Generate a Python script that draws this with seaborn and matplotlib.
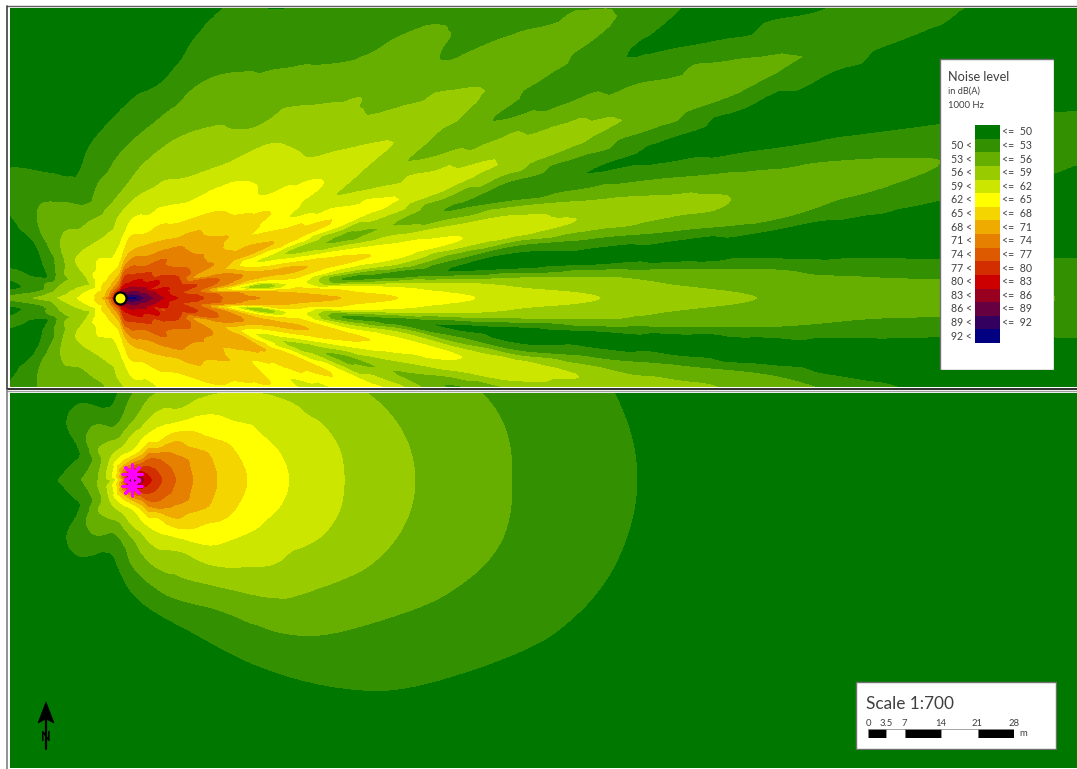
from __future__ import annotations

import matplotlib

matplotlib.use("Agg", force=True)

import matplotlib.pyplot as plt
import matplotlib.tri as mtri
import numpy as np
import seaborn as sns
from matplotlib.colors import ListedColormap
from matplotlib.patches import Polygon, Rectangle

WIDTH, HEIGHT = 1077, 769

# noise classes, dB(A)
class_limits = [50, 53, 56, 59, 62, 65, 68, 71, 74, 77, 80, 83, 86, 89, 92]
class_colors = [
    "#007800", "#339000", "#66AF00", "#99CC00", "#CCE600", "#FFFF00", "#F5D500", "#F0AB00",
    "#E68000", "#DE5A00", "#D32E00", "#CC0000", "#990020", "#660040", "#330060", "#000080",
]

# upper map: readings along rays from the source, mirrored about the axis
top_source = (120, 298)
top_radii = [0, 12, 25, 40, 60, 80, 110, 140, 180, 230, 280, 340, 400, 480, 560, 650, 750, 850, 1000]
top_angles = [0, 1.3, 2.5, 4.7, 7, 9.5, 12, 15, 19.5, 25.4, 29.6, 36.3, 40, 46, 52, 60, 70, 80, 90,
              100, 110, 120, 130, 140, 150, 156, 160, 164, 168, 174, 180]
top_db = [
    [90, 93, 88, 84, 79.5, 77.5, 73, 71, 70, 67.5, 64.9, 62.5, 60.7, 59, 57.4, 55.8, 54.6, 53.6, 52.6],
    [90, 92.5, 88, 83.5, 79, 77, 72.5, 69.8, 68.3, 65.5, 63.2, 61, 59.2, 57.6, 55.9, 54.4, 53.4, 52.8, 51.8],
    [90, 92, 87.5, 83, 78.5, 76.5, 72, 68.5, 66.5, 63.5, 61, 59, 57.3, 56, 54.2, 53, 51.3, 50.2, 49.5],
    [90, 91, 87, 82.5, 77.5, 74, 64, 56, 63, 52, 51, 49.5, 48.5, 48, 47.5, 47, 46.5, 46, 45.5],
    [90, 91, 87, 82, 78, 75.5, 70, 65, 65.5, 60, 59, 54, 51, 52.5, 53.2, 53.5, 51.5, 50, 48.5],
    [90, 90, 86, 81.5, 78.5, 76.8, 72.5, 69.5, 68.5, 66, 64, 62, 60.5, 58.6, 57, 55.4, 54, 52.8, 51],
    [90, 89.5, 85, 81.5, 78, 75.5, 72, 66, 64, 62, 60.5, 59.5, 58.8, 55.5, 53.5, 51.8, 50.8, 49.8, 48.5],
    [90, 89, 84, 77, 78, 70, 68, 62, 58, 55, 56, 52.8, 51, 50, 49, 47.5, 46, 45, 44],
    [90, 88, 84, 80, 77.5, 73, 70, 69, 67, 64.7, 62.5, 60.5, 59, 57, 55.5, 54.2, 52.6, 51, 49],
    [90, 87, 83, 80, 75.5, 73, 68.5, 65.4, 62.5, 59.4, 57, 55.4, 53.3, 51.5, 50, 48, 46.5, 45, 44],
    [90, 86, 82, 77.5, 74.3, 71.8, 69, 67.2, 64.6, 62.2, 60, 58.3, 56.5, 54.7, 53.2, 51.6, 50, 48.5, 47],
    [90, 85, 81, 76.7, 73.5, 71.2, 67.5, 65, 61.5, 59.3, 57, 55, 53, 51.6, 50, 48.5, 47, 46, 45],
    [90, 85, 81, 77, 74, 71, 67.4, 64.6, 61.8, 59, 57, 55.3, 53.6, 51.7, 50.4, 49, 47.5, 46.5, 45],
    [90, 84, 80, 75.5, 72.4, 68.5, 65.3, 63.3, 60.8, 58.2, 55.3, 52.6, 51.4, 49.8, 48.5, 47.2, 46, 45, 44],
    [90, 83, 79, 74, 70.3, 67, 63.3, 61.2, 58.3, 55.2, 53.6, 51.5, 49.8, 48.6, 47.5, 46.5, 45.5, 44.5, 43.5],
    [90, 82, 77.5, 73, 68.5, 65.7, 61.7, 59, 57, 54.5, 52.2, 49.8, 48.4, 47, 46, 45, 44, 43, 42],
    [90, 81, 77, 72, 66.5, 63, 60, 58, 55.4, 52.8, 50.8, 49.2, 47, 46, 45, 44, 43, 42, 41],
    [90, 79, 75, 68.8, 65.4, 62.2, 58.2, 55.7, 52.6, 49.2, 48, 47, 46, 45, 44, 43, 42, 41, 40],
    [90, 75, 68, 64, 61.2, 59.4, 55.4, 53.3, 50.4, 48, 47, 46, 45, 44, 43, 42, 41, 40, 39],
    [90, 73, 66, 62.2, 59.8, 57, 53.8, 51.2, 48.8, 47, 46, 45, 44, 43, 42, 41, 40, 39, 38],
    [90, 72, 65, 62.3, 59.2, 56.4, 51.5, 49.3, 47.5, 46, 45, 44, 43, 42, 41, 40, 39, 38, 37],
    [90, 71, 64.5, 62.6, 59, 56, 53, 50.3, 48, 46.5, 45, 44, 43, 42, 41, 40, 39, 38, 37],
    [90, 70, 64, 61.6, 59, 56.6, 54, 51.8, 49.5, 48, 47, 46, 45, 44, 43, 42, 41, 40, 39],
    [90, 70, 64, 61.3, 58.7, 55.6, 52.5, 50.6, 49.5, 48.5, 48, 47, 46, 45, 44, 43, 42, 41, 40],
    [90, 70, 63.5, 58.5, 56.5, 52, 48.5, 48, 47, 46, 45, 44, 43, 42, 41, 40, 39, 38, 37],
    [90, 70, 62.5, 57, 56.2, 50.7, 48.8, 48, 47, 46, 45, 44, 43, 42, 41, 40, 39, 38, 37],
    [90, 70, 63, 58.2, 55, 49.8, 49, 48, 47, 46, 45, 44, 43, 42, 41, 40, 39, 38, 37],
    [90, 70, 64, 59, 55.5, 49, 49.7, 49, 48, 47, 46, 45, 44, 43, 42, 41, 40, 39, 38],
    [90, 70, 64.5, 60, 56.2, 52, 51, 50, 49, 48, 47, 46, 45, 44, 43, 42, 41, 40, 39],
    [90, 70, 65, 61.5, 57.3, 52.5, 49, 48, 47, 46, 45, 44, 43, 42, 41, 40, 39, 38, 37],
    [90, 72, 65, 62.4, 59.3, 56.7, 54, 52, 50, 49, 48, 47, 46, 45, 44, 43, 42, 41, 40],
]

# lower map, same idea
bottom_source = (132, 480)
bottom_radii = [0, 15, 30, 45, 60, 85, 115, 155, 210, 280, 380, 500, 650, 800, 1000]
bottom_angles = [0, 10, 20, 30, 40, 55, 70, 90, 106, 125, 138, 153, 165, 180]
bottom_db = [
    [90, 81.5, 76.9, 73.7, 71.1, 68, 65, 62.1, 59.1, 56.1, 53, 50.1, 47.5, 46, 44],
    [90, 81, 76.5, 73.4, 70.9, 67.8, 64.6, 61.7, 58.9, 55.8, 52.8, 49.8, 47.3, 45.8, 43.8],
    [90, 80.5, 76, 73.1, 70.8, 67.3, 63.8, 60.6, 58, 54.8, 51.7, 49, 47, 45.5, 43.5],
    [90, 79.5, 75.5, 72, 69, 65.2, 62.2, 59.7, 56.3, 53.1, 50.1, 47.8, 46, 44.5, 43],
    [90, 79, 74.8, 70.6, 67.9, 63.7, 60.8, 57.6, 54.6, 51.4, 48.8, 46.5, 45, 44, 42],
    [90, 77, 72, 65.3, 63.4, 59.3, 57, 53.4, 50.7, 48.5, 46.5, 45, 44, 43, 41],
    [90, 75, 66, 62.8, 60.5, 57.5, 54.2, 50.2, 48, 46.5, 45, 44, 43, 42, 40],
    [90, 72, 61.5, 59, 55.5, 53, 49.8, 47.5, 46, 45, 44, 43, 42, 41, 40],
    [90, 70, 60.5, 55.8, 52.4, 49, 47.5, 46.5, 45.5, 44.5, 43.5, 42.5, 41.5, 40.5, 39.5],
    [90, 69, 59.7, 56, 53.9, 50.7, 48.5, 47, 46, 45, 44, 43, 42, 41, 40],
    [90, 69, 59, 56, 53.2, 50.2, 48.5, 47, 46, 45, 44, 43, 42, 41, 40],
    [90, 66, 57.8, 52.8, 49.7, 48, 47, 46, 45, 44, 43, 42, 41, 40, 39],
    [90, 66, 57.5, 52.9, 50.2, 48.3, 47, 46, 45, 44, 43, 42, 41, 40, 39],
    [90, 62, 57, 53.9, 51.7, 49, 47.5, 46.5, 45.5, 44.5, 43.5, 42.5, 41.5, 40.5, 39.5],
]

scale_ticks = [0, 3.5, 7, 14, 21, 28]
scale_labels = ["0", "3.5", "7", "14", "21", "28"]

TEXT = "#404040"

sns.set_theme(style="white")
plt.rcParams["font.family"] = ["Lato", "DejaVu Sans"]


def px_axes(fig, x0, y0, x1, y1):
    ax = fig.add_axes([x0 / WIDTH, 1 - y1 / HEIGHT, (x1 - x0) / WIDTH, (y1 - y0) / HEIGHT])
    ax.set_xlim(x0, x1)
    ax.set_ylim(y1, y0)
    ax.axis("off")
    return ax


def noise_map(ax, source, radii, angles, db):
    # both halves of the fan, -180 .. 180
    half = np.array(db, dtype=float)
    values = np.vstack([half[:0:-1], half])
    deg = np.array(angles, dtype=float)
    deg = np.concatenate([-deg[:0:-1], deg])

    # triangles from the reading grid, laid out in angle / log radius
    col, row = np.meshgrid(np.arange(len(radii)), np.arange(len(deg)))
    index_tri = mtri.Triangulation(col.ravel().astype(float), row.ravel().astype(float))
    log_r = np.log(np.array(radii, dtype=float) + 20)
    u = log_r[col.ravel()] * 20
    v = deg[row.ravel()]
    grid = mtri.Triangulation(u, v, index_tri.triangles)

    # matplotlib's tri refiner rounds the contour cells
    interp = mtri.CubicTriInterpolator(grid, values.ravel(), kind="geom")
    fine, fine_db = mtri.UniformTriRefiner(grid).refine_field(values.ravel(), triinterpolator=interp, subdiv=3)

    r = np.exp(fine.x / 20) - 20
    t = np.radians(fine.y)
    mapped = mtri.Triangulation(source[0] + r * np.cos(t), source[1] - r * np.sin(t), fine.triangles)
    levels = [0] + class_limits + [200]
    ax.tricontourf(mapped, fine_db, levels=levels, colors=class_colors)


def legend_panel(fig):
    ax = px_axes(fig, 939, 58, 1054, 370)
    ax.add_patch(Rectangle((939.5, 58.5), 114, 311, fc="white", ec="#707070", lw=1))
    ax.text(948, 77, "Noise level", fontsize=9.2, color=TEXT, va="center")
    ax.text(948, 91.5, "in dB(A)", fontsize=6.6, color=TEXT, va="center")
    ax.text(948, 105, "1000 Hz", fontsize=6.8, color=TEXT, va="center")

    bar = fig.add_axes([975 / WIDTH, 1 - 343 / HEIGHT, 25 / WIDTH, 218 / HEIGHT])
    cells = np.arange(len(class_colors)).reshape(-1, 1)
    sns.heatmap(cells, ax=bar, cmap=ListedColormap(class_colors), cbar=False,
                xticklabels=False, yticklabels=False)
    for i, limit in enumerate(class_limits):
        bar.text(1.1, i + 0.5, f"<=  {limit}", fontsize=7.6, color=TEXT, va="center", ha="left")
        bar.text(-0.12, i + 1.5, f"{limit} <", fontsize=7.6, color=TEXT, va="center", ha="right")


def scale_panel(fig):
    ax = px_axes(fig, 855, 681, 1057, 750)
    ax.add_patch(Rectangle((855.5, 681.5), 200.5, 67.5, fc="white", ec="#707070", lw=1))
    ax.text(866, 704, "Scale 1:700", fontsize=12.4, color=TEXT, va="center")

    # metres along the bar
    bar = fig.add_axes([868 / WIDTH, 1 - 738 / HEIGHT, 146 / WIDTH, 9 / HEIGHT])
    starts = scale_ticks[:-1]
    widths = np.diff(scale_ticks)
    fills = ["black", "white", "black", "white", "black"]
    bar.barh([0] * len(starts), widths, left=starts, height=1, color=fills, edgecolor="#808080", linewidth=0.5)
    bar.set_xlim(0, 28)
    bar.set_ylim(-0.5, 0.5)
    bar.axis("off")
    for tick, label in zip(scale_ticks, scale_labels):
        bar.text(tick, 0.62, label, fontsize=6.8, color=TEXT, ha="center", va="bottom")
    bar.text(29, 0, "m", fontsize=6.8, color=TEXT, va="center")


def north_arrow(ax):
    ax.add_patch(Polygon([(46, 702), (54, 723), (46, 719), (38, 723)], closed=True, fc="black", ec="black", lw=0.5))
    ax.plot([46, 46], [719, 749], color="black", lw=1.6)
    ax.text(46, 737, "N", fontsize=9, fontweight="bold", color="black", ha="center", va="center")


fig = plt.figure(figsize=(WIDTH / 100, HEIGHT / 100), dpi=100, facecolor="white")

top = px_axes(fig, 10, 8, 1077, 387)
noise_map(top, top_source, top_radii, top_angles, top_db)
top.scatter([top_source[0]], [top_source[1]], s=75, color="#FFFF00", edgecolor="black", linewidth=1.6, zorder=5)

bottom = px_axes(fig, 10, 393, 1077, 768)
noise_map(bottom, bottom_source, bottom_radii, bottom_angles, bottom_db)
for dy in (-6, 6):
    bottom.scatter([bottom_source[0]], [bottom_source[1] + dy], s=190, marker=(8, 2, 0),
                   color="#FF00FF", linewidth=2.2, zorder=5)
north_arrow(bottom)

legend_panel(fig)
scale_panel(fig)

# frame lines of the two map windows
frame = px_axes(fig, 0, 0, WIDTH, HEIGHT)
frame.patch.set_alpha(0)
frame.plot([7, WIDTH], [5.5, 5.5], color="#606060", lw=1)
frame.plot([7, WIDTH], [388.5, 388.5], color="#303030", lw=1.4)
frame.plot([7, WIDTH], [390.5, 390.5], color="#A0A0A0", lw=1)
frame.plot([7, 7], [5.5, 388], color="#404040", lw=1.2)
frame.plot([7, 7], [390, HEIGHT], color="#808080", lw=1.2)

fig.savefig("out.png", dpi=100)
